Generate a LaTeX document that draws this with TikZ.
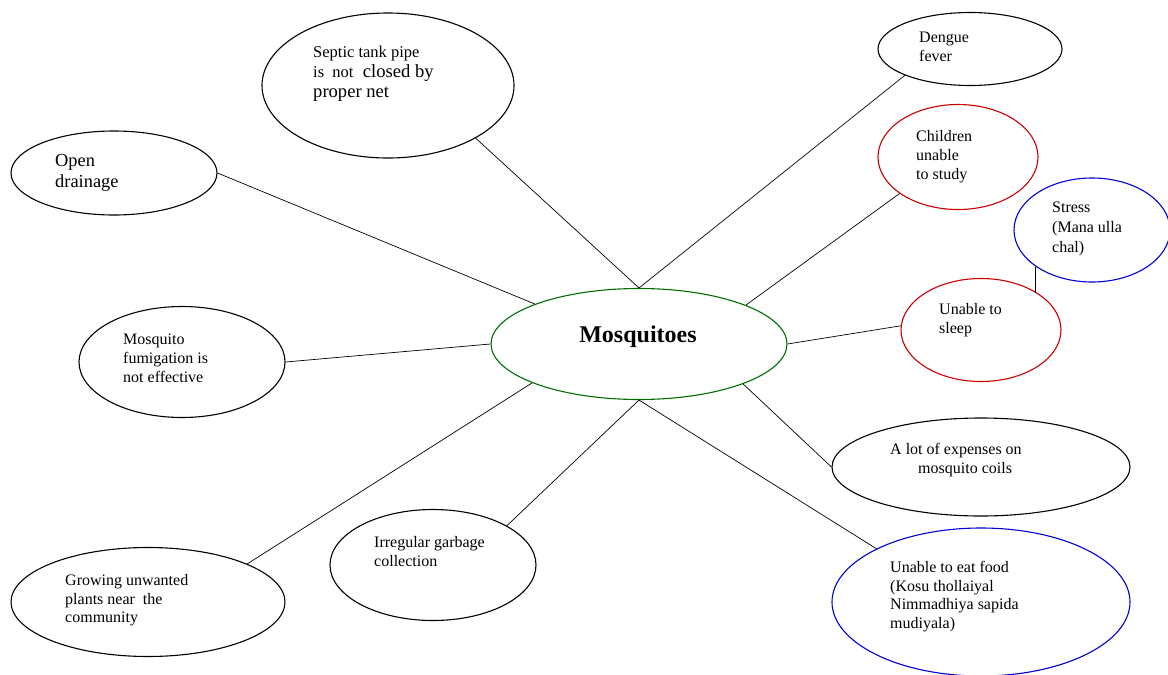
\documentclass[tikz,border=0pt]{standalone}
\usepackage{fontspec}
\setmainfont{Liberation Serif}
\usetikzlibrary{shapes.geometric}
\definecolor{cgreen}{RGB}{0,112,0}
\definecolor{cred}{RGB}{204,0,0}
\definecolor{cblue}{RGB}{0,0,210}
\begin{document}
\begin{tikzpicture}[x=1pt,y=-1pt,
  bub/.style={ellipse,draw,line width=1.1pt,inner sep=0pt},
  conn/.style={line width=0.7pt},
  txt/.style={anchor=north west,inner sep=0pt,align=left,font=\fontsize{16}{18.7}\selectfont}]
\useasboundingbox[fill=white] (0,0) rectangle (1168,675);

% ellipses
\node[bub,cgreen,minimum width=296pt,minimum height=111pt] (mos) at (639,344) {};
\node[bub,minimum width=252pt,minimum height=145pt] (septic) at (388,85.5) {};
\node[bub,minimum width=206pt,minimum height=84pt] (open) at (114,173) {};
\node[bub,minimum width=206pt,minimum height=111pt] (fumi) at (182,362) {};
\node[bub,minimum width=274pt,minimum height=109pt] (grow) at (148,602) {};
\node[bub,minimum width=206pt,minimum height=111pt] (garb) at (433,565) {};
\node[bub,minimum width=184pt,minimum height=73pt] (deng) at (970,49) {};
\node[bub,cred,minimum width=160pt,minimum height=105pt] (child) at (958,157) {};
\node[bub,cblue,minimum width=156pt,minimum height=104pt] (stress) at (1092,230) {};
\node[bub,cred,minimum width=160pt,minimum height=103pt] (sleep) at (981,330) {};
\node[bub,minimum width=298pt,minimum height=98pt] (exp) at (981,467) {};
\node[bub,cblue,minimum width=298pt,minimum height=148pt] (eat) at (981,602) {};

% texts
\node[anchor=base,inner sep=0pt,font=\fontsize{24}{28}\selectfont\bfseries] (tmos) at (638,342) {Mosquitoes};
\node[txt,font=\fontsize{18.6}{20}\selectfont] (tsep) at (313,45.7)
  {{\fontsize{16.5}{20}\selectfont Septic tank pipe}\\{\fontsize{16.5}{20}\selectfont is\ \ not}\ \ closed by\\proper net};
\node[txt,font=\fontsize{18.4}{21}\selectfont] (topen) at (55,153.8) {Open\\drainage};
\node[txt] (tfumi) at (123,334) {Mosquito\\fumigation is\\not effective};
\node[txt] (tgrow) at (65,574) {Growing unwanted\\plants near\ \ the\\community};
\node[txt] (tgarb) at (374,536) {Irregular garbage\\collection};
\node[txt,font=\fontsize{16}{19}\selectfont] (tdeng) at (919,32) {Dengue\\fever};
\node[txt,font=\fontsize{16}{19}\selectfont] (tchild) at (916,130) {Children\\unable\\to study};
\node[txt,font=\fontsize{16}{20}\selectfont] (tstress) at (1052,202) {Stress\\(Mana ulla\\chal)};
\node[txt,font=\fontsize{16}{19}\selectfont] (tsleep) at (939,303) {Unable to\\sleep};
\node[txt,font=\fontsize{16}{19}\selectfont] (texp) at (890,443) {A lot of expenses on\\\hspace*{28pt}mosquito coils};
\node[txt] (teat) at (890,561) {Unable to eat food\\(Kosu thollaiyal\\Nimmadhiya sapida\\mudiyala)};

% connectors
\draw[conn] (open.east) -- (mos.159.3);
\draw[conn] (septic.329.5) -- (mos.north);
\draw[conn] (fumi.east) -- (mos.west);
\draw[conn] (grow.21.7) -- (mos.200.2);
\draw[conn] (garb.28.1) -- (mos.south);
\draw[conn] (deng.202) -- (mos.north);
\draw[conn] (child.212.7) -- (mos.20.9);
\draw[conn] (sleep.177) -- (mos.east);
\draw[conn] (stress.213.9) -- (stress.213.9 |- sleep.33);
\draw[conn] (exp.west) -- (mos.339);
\draw[conn] (eat.153.4) -- (mos.south);
\end{tikzpicture}
\end{document}
